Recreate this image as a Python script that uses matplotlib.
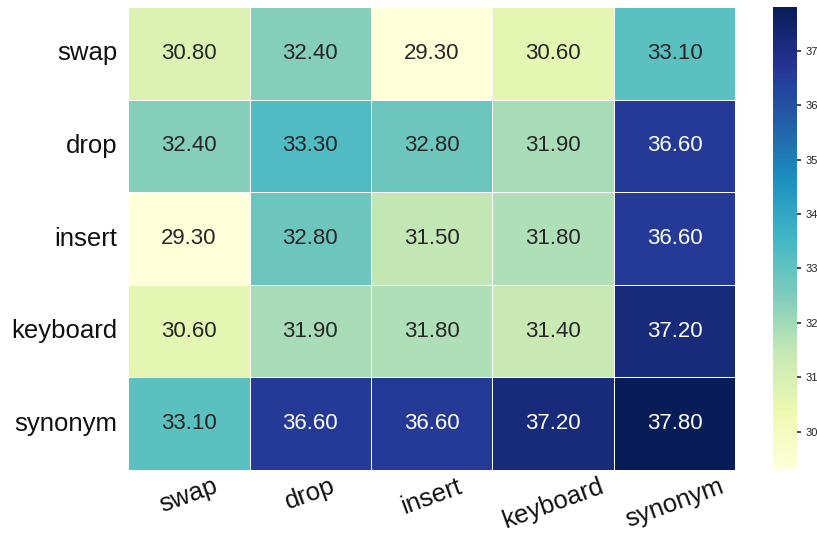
import matplotlib

matplotlib.use("Agg")
import matplotlib.pyplot as plt
import numpy as np
import seaborn as sns

ops = ["swap", "drop", "insert", "keyboard", "synonym"]
scores = [
    [30.80, 32.40, 29.30, 30.60, 33.10],
    [32.40, 33.30, 32.80, 31.90, 36.60],
    [29.30, 32.80, 31.50, 31.80, 36.60],
    [30.60, 31.90, 31.80, 31.40, 37.20],
    [33.10, 36.60, 36.60, 37.20, 37.80],
]

sns.set_theme(style="white")
plt.rcParams["font.family"] = ["Liberation Sans", "DejaVu Sans"]

fig = plt.figure(figsize=(8.17, 5.36), dpi=100)
ax = fig.add_axes([0.157, 0.123, 0.743, 0.864])
cax = fig.add_axes([0.946, 0.123, 0.029, 0.864])

sns.heatmap(
    np.array(scores),
    ax=ax,
    cbar_ax=cax,
    cmap="YlGnBu",
    annot=True,
    fmt=".2f",
    annot_kws={"fontsize": 16},
    linewidths=0.5,
    linecolor="white",
    xticklabels=ops,
    yticklabels=ops,
)
ax.tick_params(axis="x", labelsize=18.5, rotation=20, length=0, pad=3)
ax.tick_params(axis="y", labelsize=18.5, rotation=0, length=0, pad=8)
for lab in ax.get_xticklabels() + ax.get_yticklabels():
    lab.set_color("#111111")
cax.tick_params(labelsize=8, length=3, color="#333333")

fig.savefig("out.png", dpi=100)
